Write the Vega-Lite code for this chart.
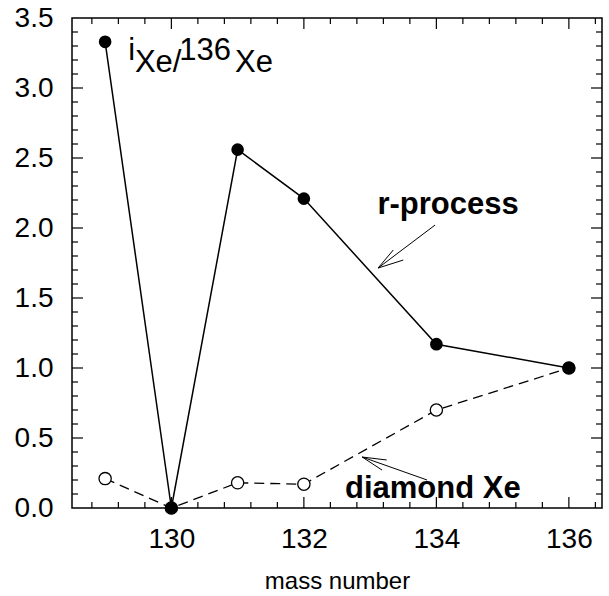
{
  "$schema": "https://vega.github.io/schema/vega-lite/v6.json",
  "autosize": "none",
  "width": 530,
  "height": 490,
  "padding": {"left": 72, "top": 18, "right": 7, "bottom": 88},
  "background": "white",
  "config": {
    "view": {"stroke": "black", "strokeWidth": 1.5},
    "font": "Liberation Sans",
    "axis": {"domain": false, "grid": false, "ticks": false, "labelColor": "black", "titleColor": "black", "labelFont": "Liberation Sans", "titleFont": "Liberation Sans", "titleFontWeight": "normal"}
  },
  "datasets": {
    "pts": [
      {"mass": 129, "ratio": 3.33, "series": "r-process"},
      {"mass": 130, "ratio": 0.0, "series": "r-process"},
      {"mass": 131, "ratio": 2.56, "series": "r-process"},
      {"mass": 132, "ratio": 2.21, "series": "r-process"},
      {"mass": 134, "ratio": 1.17, "series": "r-process"},
      {"mass": 136, "ratio": 1.0, "series": "r-process"},
      {"mass": 129, "ratio": 0.21, "series": "diamond Xe"},
      {"mass": 130, "ratio": 0.0, "series": "diamond Xe"},
      {"mass": 131, "ratio": 0.18, "series": "diamond Xe"},
      {"mass": 132, "ratio": 0.17, "series": "diamond Xe"},
      {"mass": 134, "ratio": 0.70, "series": "diamond Xe"},
      {"mass": 136, "ratio": 1.0, "series": "diamond Xe"}
    ],
    "xticks": [
      {"value": 128.8, "major": false}, {"value": 129.2, "major": false}, {"value": 129.6, "major": false},
      {"value": 130, "major": true}, {"value": 130.4, "major": false}, {"value": 130.8, "major": false},
      {"value": 131.2, "major": false}, {"value": 131.6, "major": false}, {"value": 132, "major": true},
      {"value": 132.4, "major": false}, {"value": 132.8, "major": false}, {"value": 133.2, "major": false},
      {"value": 133.6, "major": false}, {"value": 134, "major": true}, {"value": 134.4, "major": false},
      {"value": 134.8, "major": false}, {"value": 135.2, "major": false}, {"value": 135.6, "major": false},
      {"value": 136, "major": true}, {"value": 136.4, "major": false}
    ],
    "yticks": [
      {"value": 0.1, "major": false}, {"value": 0.2, "major": false}, {"value": 0.3, "major": false}, {"value": 0.4, "major": false},
      {"value": 0.5, "major": true}, {"value": 0.6, "major": false}, {"value": 0.7, "major": false}, {"value": 0.8, "major": false},
      {"value": 0.9, "major": false}, {"value": 1.0, "major": true}, {"value": 1.1, "major": false}, {"value": 1.2, "major": false},
      {"value": 1.3, "major": false}, {"value": 1.4, "major": false}, {"value": 1.5, "major": true}, {"value": 1.6, "major": false},
      {"value": 1.7, "major": false}, {"value": 1.8, "major": false}, {"value": 1.9, "major": false}, {"value": 2.0, "major": true},
      {"value": 2.1, "major": false}, {"value": 2.2, "major": false}, {"value": 2.3, "major": false}, {"value": 2.4, "major": false},
      {"value": 2.5, "major": true}, {"value": 2.6, "major": false}, {"value": 2.7, "major": false}, {"value": 2.8, "major": false},
      {"value": 2.9, "major": false}, {"value": 3.0, "major": true}, {"value": 3.1, "major": false}, {"value": 3.2, "major": false},
      {"value": 3.3, "major": false}, {"value": 3.4, "major": false}
    ],
    "arrows": [
      {"x": 133.98, "y": 2.021, "x2": 133.12, "y2": 1.714},
      {"x": 133.35, "y": 1.843, "x2": 133.12, "y2": 1.714},
      {"x": 133.50, "y": 1.771, "x2": 133.12, "y2": 1.714},
      {"x": 133.86, "y": 0.2, "x2": 132.88, "y2": 0.364},
      {"x": 133.25, "y": 0.343, "x2": 132.88, "y2": 0.364},
      {"x": 133.18, "y": 0.271, "x2": 132.88, "y2": 0.364}
    ],
    "notes": [
      {"x": 133.11, "y": 2.1, "text": "r-process"},
      {"x": 132.62, "y": 0.071, "text": "diamond Xe"}
    ],
    "labelMain": [
      {"x": 129.45, "y": 3.114, "text": "Xe/"},
      {"x": 130.96, "y": 3.114, "text": "Xe"}
    ],
    "labelSup": [
      {"x": 129.35, "y": 3.2, "text": "i"},
      {"x": 130.12, "y": 3.2, "text": "136"}
    ]
  },
  "layer": [
    {
      "data": {"name": "pts"},
      "transform": [{"filter": "datum.series == 'r-process'"}],
      "mark": {"type": "line", "color": "black", "strokeWidth": 1.5},
      "encoding": {
        "x": {"field": "mass", "type": "quantitative", "scale": {"domain": [128.5, 136.5], "nice": false, "zero": false},
          "axis": {"orient": "bottom", "title": "mass number", "titleFontSize": 24, "titleY": 80, "titleBaseline": "alphabetic",
            "values": [130, 132, 134, 136], "format": "d",
            "labelFontSize": 28, "labelPadding": 17, "labelFlush": false, "labelOverlap": false}},
        "y": {"field": "ratio", "type": "quantitative", "scale": {"domain": [0, 3.5], "nice": false},
          "axis": {"orient": "left", "title": null,
            "values": [0, 0.5, 1, 1.5, 2, 2.5, 3, 3.5], "format": ".1f",
            "labelFontSize": 28, "labelPadding": 19, "labelFlush": false, "labelOverlap": false}}
      }
    },
    {
      "data": {"name": "xticks"},
      "transform": [{"filter": "datum.major"}],
      "mark": {"type": "rule", "color": "black", "strokeWidth": 1.2},
      "encoding": {
        "x": {"field": "value", "type": "quantitative"},
        "y": {"datum": 0, "type": "quantitative"},
        "y2": {"datum": 0.0786}
      }
    },
    {
      "data": {"name": "xticks"},
      "transform": [{"filter": "!datum.major"}],
      "mark": {"type": "rule", "color": "black", "strokeWidth": 1.2},
      "encoding": {
        "x": {"field": "value", "type": "quantitative"},
        "y": {"datum": 0, "type": "quantitative"},
        "y2": {"datum": 0.043}
      }
    },
    {
      "data": {"name": "xticks"},
      "transform": [{"filter": "datum.major"}],
      "mark": {"type": "rule", "color": "black", "strokeWidth": 1.2},
      "encoding": {
        "x": {"field": "value", "type": "quantitative"},
        "y": {"datum": 3.5, "type": "quantitative"},
        "y2": {"datum": 3.4214}
      }
    },
    {
      "data": {"name": "xticks"},
      "transform": [{"filter": "!datum.major"}],
      "mark": {"type": "rule", "color": "black", "strokeWidth": 1.2},
      "encoding": {
        "x": {"field": "value", "type": "quantitative"},
        "y": {"datum": 3.5, "type": "quantitative"},
        "y2": {"datum": 3.457}
      }
    },
    {
      "data": {"name": "yticks"},
      "transform": [{"filter": "datum.major"}],
      "mark": {"type": "rule", "color": "black", "strokeWidth": 1.2},
      "encoding": {
        "y": {"field": "value", "type": "quantitative"},
        "x": {"datum": 128.5, "type": "quantitative"},
        "x2": {"datum": 128.666}
      }
    },
    {
      "data": {"name": "yticks"},
      "transform": [{"filter": "!datum.major"}],
      "mark": {"type": "rule", "color": "black", "strokeWidth": 1.2},
      "encoding": {
        "y": {"field": "value", "type": "quantitative"},
        "x": {"datum": 128.5, "type": "quantitative"},
        "x2": {"datum": 128.5906}
      }
    },
    {
      "data": {"name": "yticks"},
      "transform": [{"filter": "datum.major"}],
      "mark": {"type": "rule", "color": "black", "strokeWidth": 1.2},
      "encoding": {
        "y": {"field": "value", "type": "quantitative"},
        "x": {"datum": 136.5, "type": "quantitative"},
        "x2": {"datum": 136.334}
      }
    },
    {
      "data": {"name": "yticks"},
      "transform": [{"filter": "!datum.major"}],
      "mark": {"type": "rule", "color": "black", "strokeWidth": 1.2},
      "encoding": {
        "y": {"field": "value", "type": "quantitative"},
        "x": {"datum": 136.5, "type": "quantitative"},
        "x2": {"datum": 136.4094}
      }
    },
    {
      "data": {"name": "pts"},
      "transform": [{"filter": "datum.series == 'diamond Xe'"}],
      "mark": {"type": "line", "color": "black", "strokeWidth": 1.3, "strokeDash": [10, 6]},
      "encoding": {
        "x": {"field": "mass", "type": "quantitative"},
        "y": {"field": "ratio", "type": "quantitative"}
      }
    },
    {
      "data": {"name": "pts"},
      "transform": [{"filter": "datum.series == 'diamond Xe'"}],
      "mark": {"type": "point", "shape": "circle", "filled": true, "fill": "white", "stroke": "black", "strokeWidth": 1.3, "size": 150, "opacity": 1},
      "encoding": {
        "x": {"field": "mass", "type": "quantitative"},
        "y": {"field": "ratio", "type": "quantitative"}
      }
    },
    {
      "data": {"name": "pts"},
      "transform": [{"filter": "datum.series == 'r-process'"}],
      "mark": {"type": "point", "shape": "circle", "filled": true, "color": "black", "size": 160, "opacity": 1},
      "encoding": {
        "x": {"field": "mass", "type": "quantitative"},
        "y": {"field": "ratio", "type": "quantitative"}
      }
    },
    {
      "data": {"name": "arrows"},
      "mark": {"type": "rule", "color": "black", "strokeWidth": 1},
      "encoding": {
        "x": {"field": "x", "type": "quantitative"},
        "y": {"field": "y", "type": "quantitative"},
        "x2": {"field": "x2"},
        "y2": {"field": "y2"}
      }
    },
    {
      "data": {"name": "notes"},
      "mark": {"type": "text", "font": "Liberation Sans", "fontWeight": "bold", "fontSize": 31, "align": "left", "baseline": "alphabetic", "color": "black"},
      "encoding": {
        "x": {"field": "x", "type": "quantitative"},
        "y": {"field": "y", "type": "quantitative"},
        "text": {"field": "text"}
      }
    },
    {
      "data": {"name": "labelMain"},
      "mark": {"type": "text", "font": "Liberation Sans", "fontSize": 31, "align": "left", "baseline": "alphabetic", "color": "black"},
      "encoding": {
        "x": {"field": "x", "type": "quantitative"},
        "y": {"field": "y", "type": "quantitative"},
        "text": {"field": "text"}
      }
    },
    {
      "data": {"name": "labelSup"},
      "mark": {"type": "text", "font": "Liberation Sans", "fontSize": 31, "align": "left", "baseline": "alphabetic", "color": "black"},
      "encoding": {
        "x": {"field": "x", "type": "quantitative"},
        "y": {"field": "y", "type": "quantitative"},
        "text": {"field": "text"}
      }
    }
  ]
}
